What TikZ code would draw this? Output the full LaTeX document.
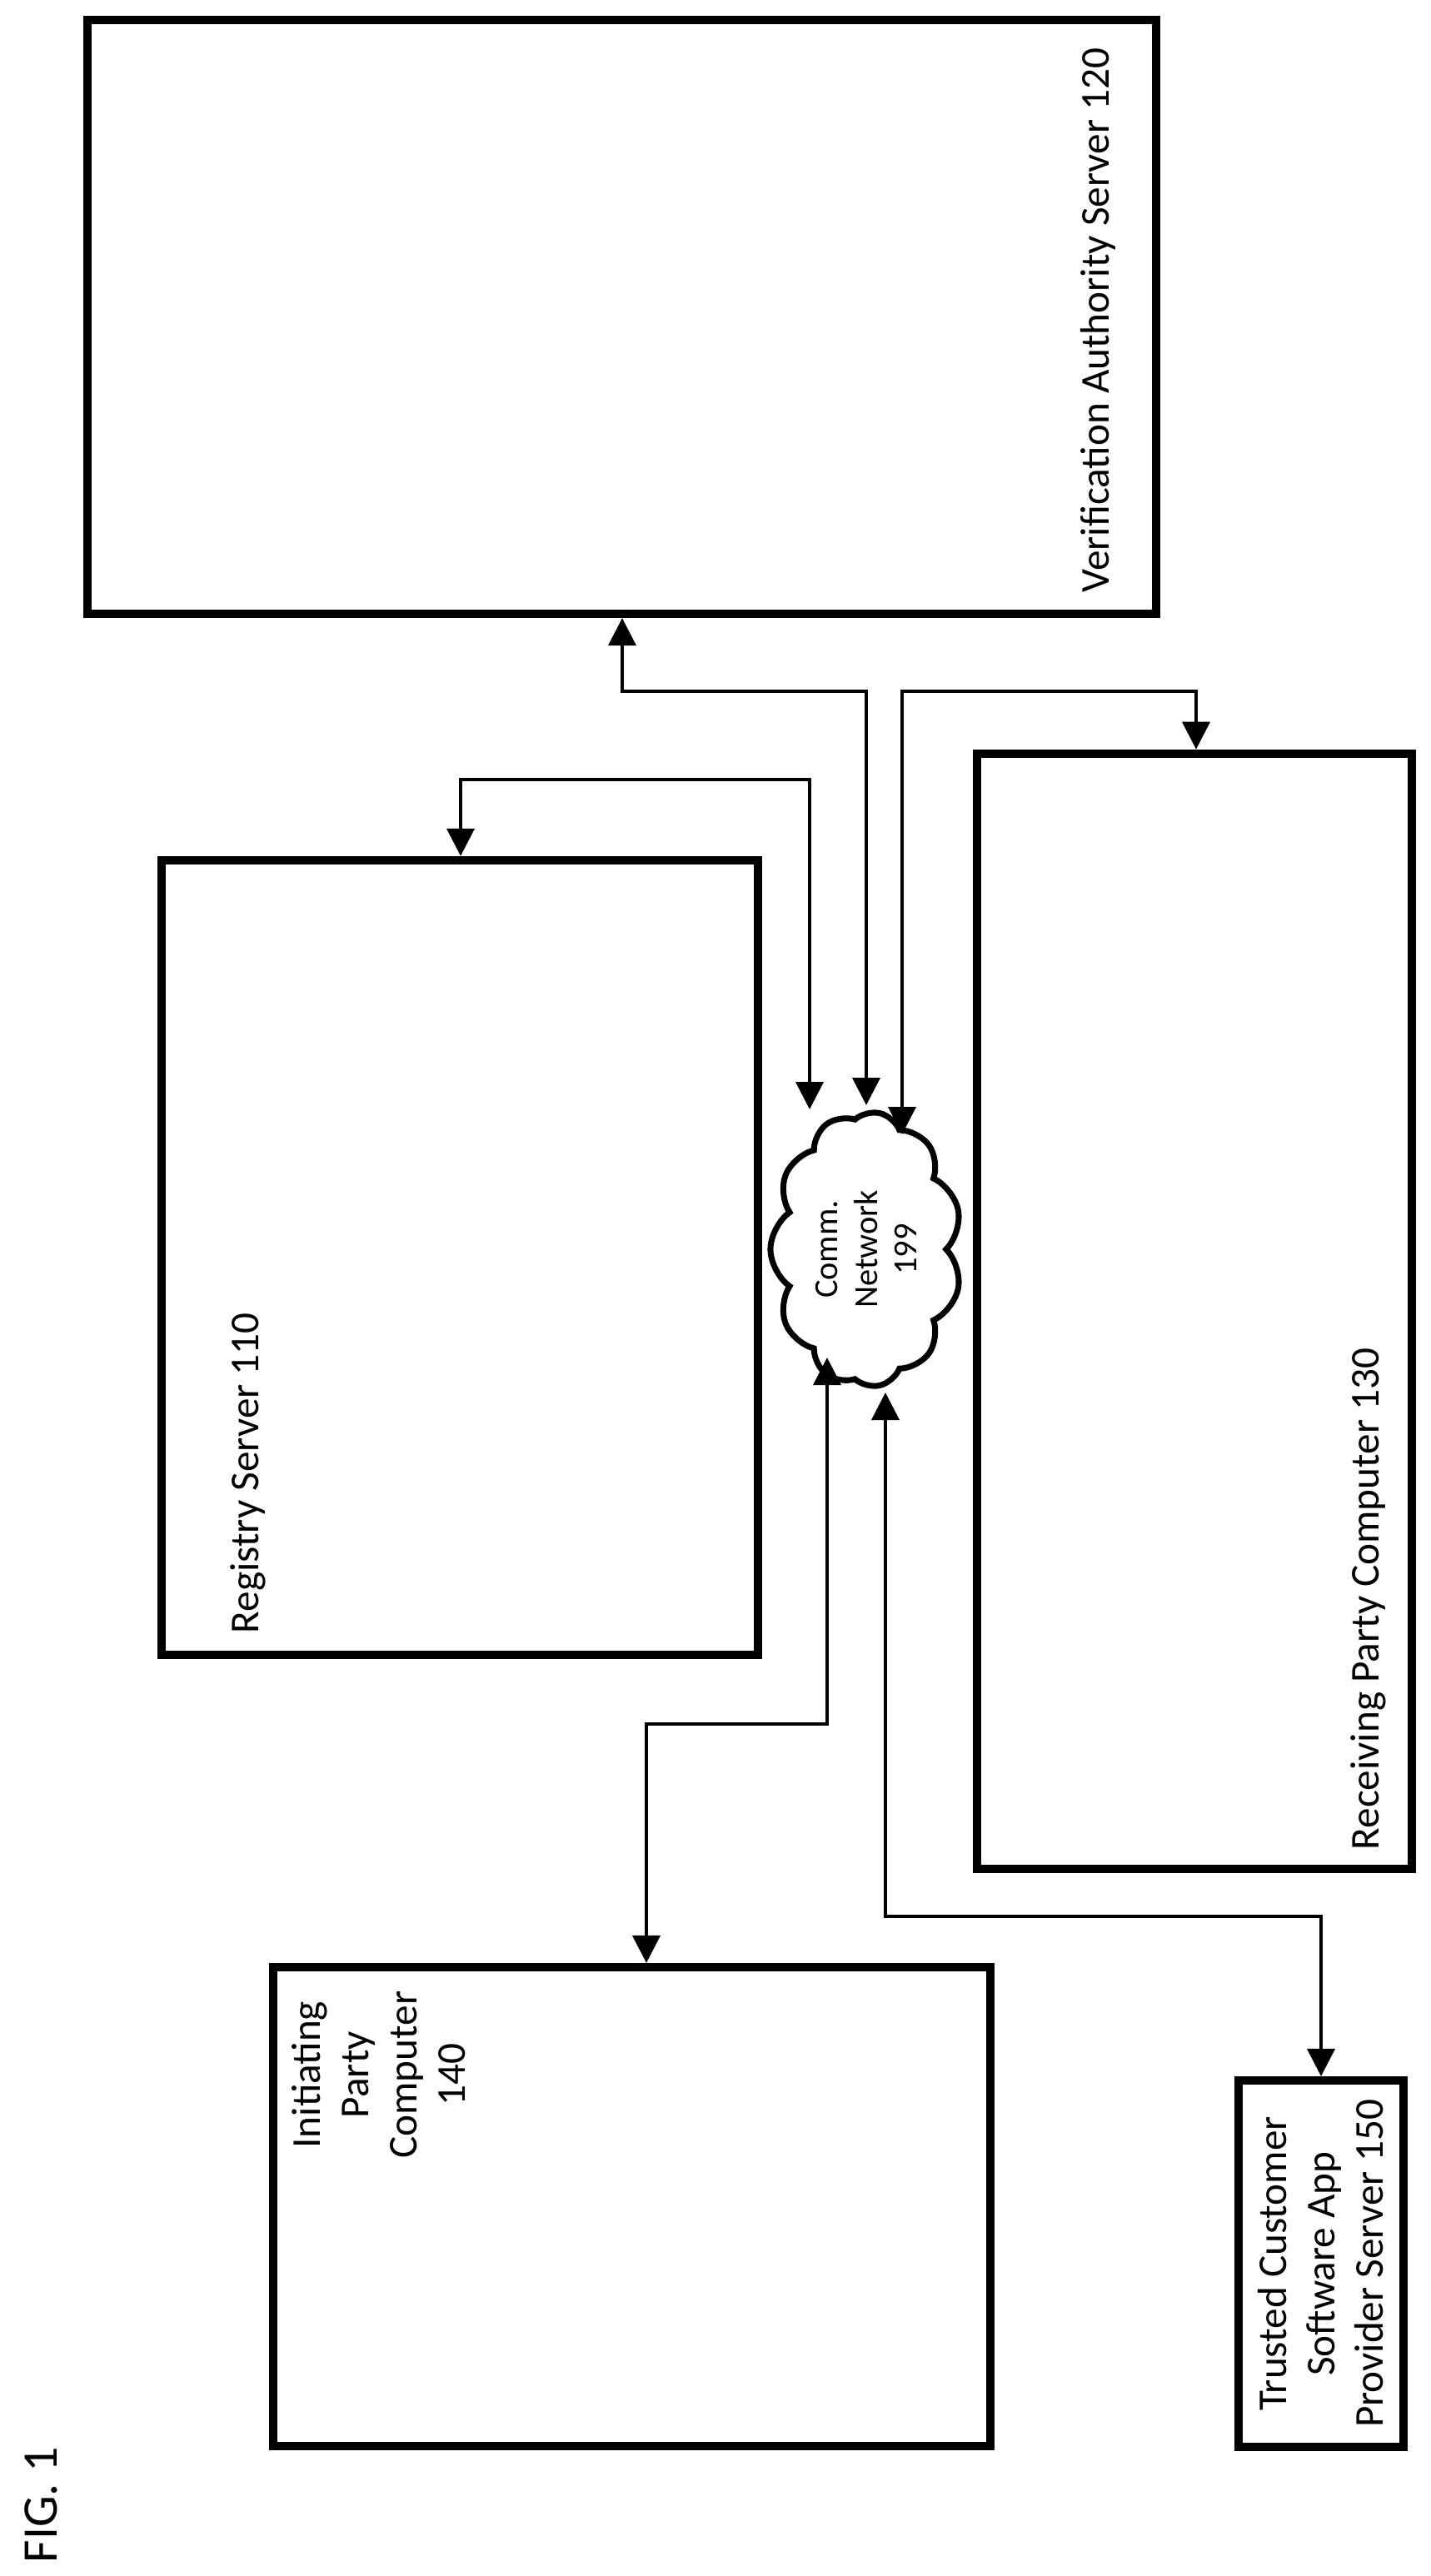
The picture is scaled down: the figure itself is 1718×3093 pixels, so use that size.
\documentclass[tikz,border=0pt]{standalone}
\usepackage{fontspec}
\setmainfont{Carlito}
\usetikzlibrary{positioning, arrows.meta, shapes.symbols}

\begin{document}
\begin{tikzpicture}[
      % GLOBAL CFG
      x=0.01cm, y=-0.01cm,
      font=\fontsize{14}{16.5}\selectfont,
      >={Triangle[width=3.3mm,length=3.3mm]},
      % Styles
      unit/.style={% For the computers and servers
        rectangle,
        draw,
        line width=2.8pt,
        inner sep=0pt
      },
      label/.style={% For rotated box texts
        rotate=90,
        inner sep=0pt
      },
      net/.style={% For the network cloud
        cloud,
        draw,
        line width=2pt,
        cloud puffs=11,
        cloud puff arc=110,
        minimum width=3.3cm,
        minimum height=2.3cm,
        inner sep=0pt,
        rotate=90,
        align=center,
        font=\fontsize{11.5}{13.6}\selectfont
      },
      link/.style={% Arrows to the network
        line width=1.1pt,
        <->
      }
      ]
      \useasboundingbox (0,0) rectangle (1718,3093);

      % Boxes
      \node [unit, minimum width=12.83cm, minimum height=7.13cm] (verif) at (746.5,380.5) {};
      \node [unit, minimum width=7.16cm, minimum height=9.54cm] (registry) at (552,1510) {};
      \node [unit, minimum width=5.22cm, minimum height=13.39cm] (receiving) at (1434,1574.5) {};
      \node [unit, minimum width=8.61cm, minimum height=5.75cm] (initiating) at (758.5,2649.5) {};
      \node [unit, minimum width=1.98cm, minimum height=4.4cm] (trusted) at (1586,2718) {};

      % Texts
      \node [label, anchor=south west] (verift) at (1340,712) {Verification Authority Server 120};
      \node [label, anchor=north west] (registryt) at (276,1962) {Registry Server 110};
      \node [label, anchor=south west] (receivingt) at (1665,2222) {Receiving Party Computer 130};
      \node [label, anchor=north east, align=center] (initiatingt) at (350,2390) {Initiating\\Party\\Computer\\140};
      \node [label, align=center] (trustedt) at (trusted.center) {Trusted Customer\\Software App\\Provider Server 150};
      \node [label, anchor=south west, font=\fontsize{17}{20}\selectfont] (fig) at (70,3078) {FIG. 1};

      % Network
      \node [net] (network) at (1040,1500) {Comm.\\Network\\199};
      \coordinate (nv) at (1040,1327);
      \coordinate (nr) at (972,1332);
      \coordinate (nc) at (1083,1362);
      \coordinate (ni) at (993,1630);
      \coordinate (nt) at (1063,1672);

      % Connectors
      \draw [link] (747,0 |- verif.south) |- (1040,830) -- (nv);
      \draw [link] (553,0 |- registry.north) |- (972,936) -- (nr);
      \draw [link] (nc) |- (1436,830) -- (1436,0 |- receiving.north);
      \draw [link] (ni) |- (776,2070) -- (776,0 |- initiating.north);
      \draw [link] (nt) |- (1586,2301) -- (trusted.north);

    \end{tikzpicture}
\end{document}
